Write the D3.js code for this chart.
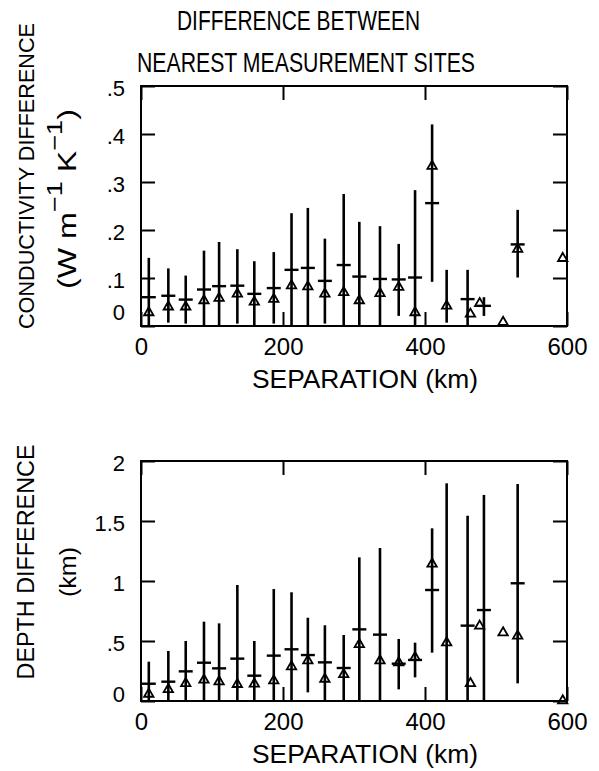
<!DOCTYPE html>
<html>
<head>
<meta charset="utf-8">
<script src="https://cdn.jsdelivr.net/npm/d3@7"></script>
<style>
  body { margin: 0; background: #fff; }
  svg { display: block; font-family: "Liberation Sans", Arial, sans-serif; }
</style>
</head>
<body>
<div id="chart"></div>
<script>
// separation of the site pairs (km)
const sep    = [11, 38.5, 63, 88.7, 110, 135.7, 159.6, 187, 212, 235, 259, 285.5, 307.5, 336.6, 363, 386, 410, 430.5, 460, 483, 510, 530.5, 594];
const medSep = [11, 38.5, 63, 88.7, 110, 135.7, 159.6, 187, 212, 235, 259, 285.5, 307.5, 336.6, 363, 386, 410, 430.5, 464, 477, 510, 530.5, 594];

// conductivity difference (W m-1 K-1)
const condHi   = [0.142, 0.120, 0.105, 0.157, 0.175, 0.160, 0.135, 0.154, 0.235, 0.246, 0.182, 0.275, 0.217, 0.208, 0.171, 0.283, 0.420, 0.117, 0.117, 0.060, null, 0.242, null];
const condLo   = [0, 0.007, 0.005, 0, 0, 0.005, 0, 0.005, 0, 0, 0.005, 0, 0, 0, 0.021, 0, 0.092, 0.007, 0, 0.021, null, 0.101, null];
const condMean = [0.060, 0.063, 0.055, 0.076, 0.083, 0.084, 0.067, 0.079, 0.117, 0.121, 0.094, 0.127, 0.103, 0.098, 0.097, 0.101, 0.256, null, 0.056, 0.042, null, 0.170, null];
const condMed  = [0.028, 0.040, 0.040, 0.053, 0.058, 0.067, 0.050, 0.056, 0.084, 0.082, 0.067, 0.070, 0.053, 0.068, 0.081, 0.028, 0.333, 0.042, 0.025, 0.047, 0.008, 0.160, 0.141];

// depth difference (km)
const depHi   = [0.328, 0.417, 0.50, 0.661, 0.647, 0.967, 0.50, 0.933, 0.906, 0.694, 0.631, 0.55, 1.197, 1.275, 0.517, 0.486, 1.439, 1.814, 1.544, 1.717, null, 1.808, null];
const depLo   = [0, 0, 0, 0, 0, 0, 0, 0, 0, 0.072, 0, 0, 0, 0, 0.097, 0.197, 0.403, 0, 0, 0, null, 0.147, null];
const depMean = [0.144, 0.161, 0.247, 0.319, 0.272, 0.353, 0.211, 0.378, 0.431, 0.383, 0.322, 0.275, 0.597, 0.553, 0.311, 0.342, 0.925, null, 0.628, 0.758, null, 0.981, null];
const depMed  = [0.058, 0.097, 0.147, 0.175, 0.161, 0.139, 0.142, 0.169, 0.286, 0.336, 0.183, 0.222, 0.472, 0.336, 0.319, 0.364, 1.142, 0.486, 0.147, 0.625, 0.569, 0.542, 0.003];

const xTicks = [0, 200, 400, 600];
const condTicks = [0, 0.1, 0.2, 0.3, 0.4, 0.5];
const depTicks = [0, 0.5, 1, 1.5, 2];

const width = 599, height = 771;
const svg = d3.select('#chart').append('svg')
  .attr('width', width)
  .attr('height', height);

// title
svg.append('text').attr('x', 177).attr('y', 30)
  .attr('font-size', 28).attr('textLength', 243).attr('lengthAdjust', 'spacingAndGlyphs')
  .text('DIFFERENCE BETWEEN');
svg.append('text').attr('x', 137).attr('y', 72)
  .attr('font-size', 28).attr('textLength', 338).attr('lengthAdjust', 'spacingAndGlyphs')
  .text('NEAREST MEASUREMENT SITES');

const fmt = d => d === 0 ? '0' : String(d).replace(/^0\./, '.');

const drawPanel = (cfg) => {
  const x = d3.scaleLinear().domain([0, 600]).range([141, 567]);
  const y = d3.scaleLinear().domain(cfg.domain).range([cfg.bottom, cfg.top]);
  const g = svg.append('g');

  // inward ticks on all four sides
  const bottomAxis = g.append('g')
    .attr('transform', `translate(0,${cfg.bottom})`)
    .call(d3.axisBottom(x).tickValues(xTicks).tickSize(-14).tickPadding(12).tickFormat(d3.format('d')));
  bottomAxis.selectAll('text').attr('font-size', 24).attr('fill', '#000');

  g.append('g')
    .attr('transform', `translate(0,${cfg.top})`)
    .call(d3.axisTop(x).tickValues(xTicks).tickSize(-14).tickFormat(''));

  const leftAxis = g.append('g')
    .attr('transform', 'translate(141,0)')
    .call(d3.axisLeft(y).tickValues(cfg.ticks).tickSize(-14).tickPadding(16).tickFormat(fmt));
  leftAxis.selectAll('text')
    .attr('font-size', 22).attr('fill', '#000')
    .attr('dy', d => d === 0 ? cfg.zeroDy : '0.45em');

  g.append('g')
    .attr('transform', 'translate(567,0)')
    .call(d3.axisRight(y).tickValues(cfg.ticks).tickSize(-14).tickFormat(''));

  g.selectAll('.domain').remove();
  g.selectAll('.tick line').attr('stroke', '#000').attr('stroke-width', 2);

  g.append('rect')
    .attr('x', 141).attr('y', cfg.top)
    .attr('width', 426).attr('height', cfg.bottom - cfg.top)
    .attr('fill', 'none').attr('stroke', '#000').attr('stroke-width', 2);

  const rows = sep.map((s, i) => ({
    s, ms: medSep[i], hi: cfg.hi[i], lo: cfg.lo[i], mean: cfg.mean[i], med: cfg.med[i]
  }));

  // range bars
  g.selectAll('.bar')
    .data(rows.filter(d => d.hi != null))
    .join('line')
    .attr('class', 'bar')
    .attr('x1', d => x(d.s)).attr('x2', d => x(d.s))
    .attr('y1', d => y(d.lo)).attr('y2', d => y(d.hi))
    .attr('stroke', '#000').attr('stroke-width', 2.6);

  // mean ticks
  g.selectAll('.mean')
    .data(rows.filter(d => d.mean != null))
    .join('line')
    .attr('class', 'mean')
    .attr('x1', d => x(d.s) - 7).attr('x2', d => x(d.s) + 7)
    .attr('y1', d => y(d.mean)).attr('y2', d => y(d.mean))
    .attr('stroke', '#000').attr('stroke-width', 2.4);

  // medians as open triangles
  g.selectAll('.med')
    .data(rows.filter(d => d.med != null))
    .join('path')
    .attr('class', 'med')
    .attr('transform', d => `translate(${x(d.ms)},${y(d.med)})`)
    .attr('d', d3.symbol(d3.symbolTriangle, 38))
    .attr('fill', 'none').attr('stroke', '#000').attr('stroke-width', 1.8);

  // x title
  svg.append('text').attr('x', 252).attr('y', cfg.bottom + 62)
    .attr('font-size', 25).attr('textLength', 226).attr('lengthAdjust', 'spacingAndGlyphs')
    .text('SEPARATION (km)');
};

drawPanel({ domain: [0, 0.5], top: 86, bottom: 326, ticks: condTicks, zeroDy: '-0.3em',
  hi: condHi, lo: condLo, mean: condMean, med: condMed });
drawPanel({ domain: [0, 2], top: 461, bottom: 701, ticks: depTicks, zeroDy: '0.0em',
  hi: depHi, lo: depLo, mean: depMean, med: depMed });

// y titles
const yTitle = (cx, cy, len, str, size) => svg.append('text')
  .attr('transform', `translate(${cx},${cy}) rotate(-90)`)
  .attr('text-anchor', 'middle').attr('font-size', size)
  .attr('textLength', len).attr('lengthAdjust', 'spacingAndGlyphs')
  .text(str);

yTitle(34, 176, 306, 'CONDUCTIVITY DIFFERENCE', 22);
yTitle(34, 562, 235, 'DEPTH DIFFERENCE', 24);
yTitle(76, 572, 50, '(km)', 24);

const unit = svg.append('text')
  .attr('transform', 'translate(76,199) rotate(-90)')
  .attr('text-anchor', 'middle').attr('font-size', 26)
  .attr('textLength', 180).attr('lengthAdjust', 'spacingAndGlyphs');
unit.append('tspan').text('(W m');
unit.append('tspan').attr('dy', -14).attr('font-size', 22).text('\u22121');
unit.append('tspan').attr('dy', 14).text(' K');
unit.append('tspan').attr('dy', -14).attr('font-size', 22).text('\u22121');
unit.append('tspan').attr('dy', 14).text(')');
</script>
</body>
</html>
